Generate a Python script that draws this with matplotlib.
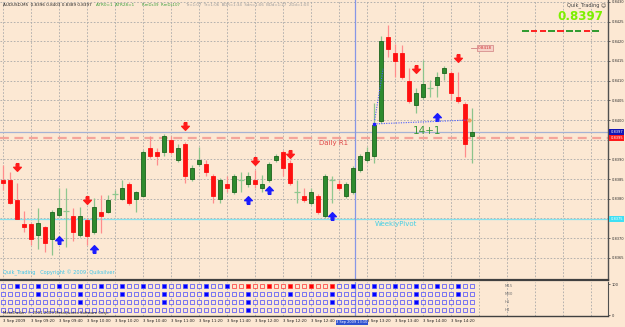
import matplotlib.pyplot as plt
from matplotlib.patches import Rectangle
from matplotlib.path import Path

# ===== AUDUSD M5, 3 Sep 2009 09:00 - 14:35 =====
opens = [0.83848, 0.83848, 0.83797, 0.83736, 0.83736, 0.83708, 0.83728, 0.83698,
         0.83759, 0.83769, 0.83756, 0.83708, 0.83746, 0.83716, 0.83766, 0.83766,
         0.83812, 0.83799, 0.83837, 0.83799, 0.83807, 0.83929, 0.83919, 0.83919,
         0.83949, 0.83898, 0.83939, 0.83850, 0.83888, 0.83888, 0.83858, 0.83799,
         0.83837, 0.83817, 0.83848, 0.83837, 0.83848, 0.83827, 0.83848, 0.83898,
         0.83919, 0.83891, 0.83817, 0.83807, 0.83789, 0.83807, 0.83756, 0.83848,
         0.83837, 0.83807, 0.83817, 0.83873, 0.83898, 0.83909, 0.83997, 0.84211,
         0.84170, 0.84170, 0.84099, 0.84038, 0.84058, 0.84081, 0.84089, 0.84119,
         0.84119, 0.84058, 0.84041, 0.83960]
highs = [0.83886, 0.83868, 0.83840, 0.83769, 0.83738, 0.83776, 0.83731, 0.83771,
         0.83827, 0.83827, 0.83776, 0.83779, 0.83751, 0.83802, 0.83810, 0.83810,
         0.83822, 0.83848, 0.83843, 0.83820, 0.83924, 0.83959, 0.83929, 0.83964,
         0.83959, 0.83939, 0.83944, 0.83886, 0.83931, 0.83898, 0.83863, 0.83853,
         0.83858, 0.83863, 0.83868, 0.83868, 0.83873, 0.83860, 0.83893, 0.83914,
         0.83924, 0.83898, 0.83848, 0.83827, 0.83827, 0.83812, 0.83863, 0.83858,
         0.83848, 0.83843, 0.83883, 0.83914, 0.83931, 0.84043, 0.84213, 0.84241,
         0.84193, 0.84191, 0.84132, 0.84081, 0.84152, 0.84102, 0.84122, 0.84137,
         0.84124, 0.84122, 0.84046, 0.84030]
lows = [0.83822, 0.83787, 0.83749, 0.83716, 0.83682, 0.83672, 0.83665, 0.83657,
        0.83754, 0.83677, 0.83693, 0.83703, 0.83682, 0.83710, 0.83713, 0.83764,
        0.83797, 0.83797, 0.83784, 0.83766, 0.83804, 0.83904, 0.83886, 0.83909,
        0.83914, 0.83893, 0.83840, 0.83845, 0.83883, 0.83858, 0.83789, 0.83789,
        0.83817, 0.83812, 0.83817, 0.83830, 0.83827, 0.83817, 0.83843, 0.83893,
        0.83858, 0.83835, 0.83789, 0.83792, 0.83784, 0.83761, 0.83751, 0.83789,
        0.83822, 0.83802, 0.83812, 0.83868, 0.83893, 0.83891, 0.83992, 0.84160,
        0.84109, 0.84104, 0.84043, 0.84018, 0.84053, 0.84058, 0.84058, 0.84102,
        0.84051, 0.84043, 0.83906, 0.83890]
closes = [0.83840, 0.83789, 0.83749, 0.83728, 0.83698, 0.83738, 0.83687, 0.83766,
          0.83776, 0.83769, 0.83716, 0.83756, 0.83705, 0.83779, 0.83756, 0.83797,
          0.83812, 0.83827, 0.83789, 0.83817, 0.83919, 0.83909, 0.83909, 0.83959,
          0.83919, 0.83929, 0.83858, 0.83878, 0.83898, 0.83868, 0.83807, 0.83848,
          0.83827, 0.83858, 0.83848, 0.83858, 0.83837, 0.83837, 0.83888, 0.83909,
          0.83878, 0.83840, 0.83817, 0.83797, 0.83817, 0.83766, 0.83858, 0.83848,
          0.83827, 0.83837, 0.83878, 0.83909, 0.83919, 0.83987, 0.84201, 0.84180,
          0.84150, 0.84109, 0.84048, 0.84069, 0.84091, 0.84081, 0.84109, 0.84132,
          0.84069, 0.84048, 0.83939, 0.83970]

# signal arrows
down_bars = [2, 12, 26, 36, 41, 59, 65]
down_prices = [0.83881, 0.83797, 0.83985, 0.83896, 0.83914, 0.84129, 0.84157]
up_bars = [8, 13, 35, 38, 47, 62]
up_prices = [0.83695, 0.83672, 0.83797, 0.83822, 0.83756, 0.84008]

# levels
bid_price = 0.8397
daily_r1 = 0.83954
weekly_pivot = 0.83749
dotted_bars = [53.0, 66.6]
dotted_prices = [0.83990, 0.84000]
dotted2_bars = [53.1, 54.3]
dotted2_prices = [0.84000, 0.84130]
price_tag_bar = 68.9
price_tag_price = 0.84183
cursor_bar = 50.3

price_ticks = [0.8365, 0.8370, 0.8375, 0.8380, 0.8385, 0.8390, 0.8395,
               0.8400, 0.8405, 0.8410, 0.8415, 0.8420, 0.8425, 0.8430]
hidden_ticks = [0.8375, 0.8395]   # covered by the coloured level tags
time_bars = [0, 4, 8, 12, 16, 20, 24, 28, 32, 36, 40, 44, 52, 56, 60, 64]
time_labels = ["3 Sep 2009", "3 Sep 09:20", "3 Sep 09:40", "3 Sep 10:00",
               "3 Sep 10:20", "3 Sep 10:40", "3 Sep 11:00", "3 Sep 11:20",
               "3 Sep 11:40", "3 Sep 12:00", "3 Sep 12:20", "3 Sep 12:40",
               "3 Sep 13:20", "3 Sep 13:40", "3 Sep 14:00", "3 Sep 14:20"]

# multi-timeframe squares
tf_names = ["M15", "M30", "H1", "H4"]
m15_on = [2, 5, 8, 11, 14, 17, 20, 23, 26, 29, 32, 35, 38, 41, 44, 47, 50, 53,
          56, 59, 62, 65]
m30_on = [5, 11, 17, 23, 29, 35, 41, 47, 53, 59, 65]
h1_on = [11, 23, 35, 47, 59]
h4_on = [35]
m15_red_from, m15_red_to = 33, 47

strip_colors = ["#2e9a2e", "#ff2020", "#ff2020", "#2e9a2e", "#ff2020",
                "#2e9a2e", "#2e9a2e", "#ff2020", "#2e9a2e"]

BG = "#fce8d3"
GRID = "#a9a9a9"
n = len(opens)

fig = plt.figure(figsize=(6.25, 3.27), dpi=100, facecolor=BG)

# ---- main window ----
ax = fig.add_axes([0, 47 / 327, 608 / 625, 280 / 327])
ax.set_facecolor(BG)
ax.set_xlim(-3 / 7, 605 / 7)
ax.set_ylim(0.835936, 0.843048)
for p in price_ticks:
    ax.axhline(p, color=GRID, lw=0.6, ls=(0, (2, 2)), zorder=0)
for gx in range(0, 87, 4):
    ax.axvline(gx, color=GRID, lw=0.6, ls=(0, (2, 2)), zorder=0)

ax.axhline(daily_r1, color="#f4a49a", lw=1.6, ls=(0, (4, 2.5)), zorder=1)
ax.axhline(bid_price, color="#a4b2d4", lw=0.9, zorder=1)
ax.axhline(weekly_pivot, color="#86e2ee", lw=0.9, zorder=1)
ax.axvline(cursor_bar, color="#8696e6", lw=0.9, zorder=1)

for i in range(n):
    o, h, l, c = opens[i], highs[i], lows[i], closes[i]
    if c > o:
        wick, fc, ec = "#8cc48c", "#2e8b2e", "#1c641c"
    elif c < o:
        wick, fc, ec = "#ff8c8c", "#ff1010", "#ff1010"
    else:
        wick, fc, ec = "#90c890", None, None
    ax.vlines(i, l, h, color=wick, lw=0.9, zorder=2)
    if fc is None:
        ax.hlines(c, i - 0.36, i + 0.36, color=wick, lw=0.9, zorder=3)
    else:
        ax.add_patch(Rectangle((i - 0.34, min(o, c)), 0.68, abs(c - o),
                               fc=fc, ec=ec, lw=0.6, zorder=3))

down_arrow = Path([(-0.35, 1), (0.35, 1), (0.35, 0.05), (1, 0.05), (0, -1),
                   (-1, 0.05), (-0.35, 0.05), (-0.35, 1)])
up_arrow = Path([(x, -y) for x, y in down_arrow.vertices])
ax.plot(down_bars, down_prices, ls="none", marker=down_arrow, ms=5.5,
        color="#ff1a1a", zorder=4)
ax.plot(up_bars, up_prices, ls="none", marker=up_arrow, ms=5.5,
        color="#1a1aff", zorder=4)

ax.plot(dotted_bars, dotted_prices, color="#4a5cff", lw=0.8, ls=(0, (1, 1.2)), zorder=4)
ax.plot(dotted2_bars, dotted2_prices, color="#4a5cff", lw=0.8, ls=(0, (1, 1.2)), zorder=4)
ax.plot(dotted_bars[1], dotted_prices[1], marker="o", ms=2, color="#f0a060", zorder=5)
ax.plot(dotted_bars[0], dotted_prices[0], marker="s", ms=1.8, color="#2020ff", zorder=5)

ax.text(47.2, daily_r1 - 0.00012, "Daily R1", color="#e04848", fontsize=5,
        ha="center", va="center", zorder=5)
ax.text(56.2, weekly_pivot - 0.00013, "WeeklyPivot", color="#46cfe4", fontsize=5,
        ha="center", va="center", zorder=5)
ax.text(60.6, 0.83972, "14+1", color="#3c9a3c", fontsize=7.5,
        ha="center", va="center", zorder=5)
ax.plot([66.8, 68.0], [price_tag_price, price_tag_price], color="#d08080", lw=0.6)
ax.text(price_tag_bar, price_tag_price, "0.8418", color="#d03030", fontsize=3,
        ha="center", va="center",
        bbox=dict(boxstyle="square,pad=0.2", fc="#f6d2c8", ec="#d08080", lw=0.5))
ax.text(0.005, 0.025, "Quik_Trading   Copyright \u00a9 2009  Quiksilver",
        transform=ax.transAxes, color="#3cc4e8", fontsize=3.6, ha="left", va="center")

ax.yaxis.tick_right()
ax.set_yticks(price_ticks)
ax.set_yticklabels(["" if p in hidden_ticks else f"{p:.4f}" for p in price_ticks])
ax.tick_params(axis="y", labelsize=2.6, length=1.5, width=0.5, pad=1,
               colors="#303030")
ax.set_xticks([])
for s in ["top", "left"]:
    ax.spines[s].set_visible(False)
ax.spines["right"].set_color("#505050")
ax.spines["right"].set_linewidth(1.0)
ax.spines["bottom"].set_color("#404040")
ax.spines["bottom"].set_linewidth(1.6)

ytr = ax.get_yaxis_transform()
for price, txt, bg in [(bid_price, "0.8397", "#1414b4"), (daily_r1, "0.8395", "#ff1a1a"),
                       (weekly_pivot, "0.8375", "#3ee0f4")]:
    ax.text(1.004, price, txt, transform=ytr, fontsize=2.6, color="white",
            ha="left", va="center", zorder=10, clip_on=False,
            bbox=dict(boxstyle="square,pad=0.3", fc=bg, ec="none"))

# ---- indicator sub window ----
sub = fig.add_axes([0, 11 / 327, 608 / 625, 34 / 327])
sub.set_facecolor(BG)
sub.set_xlim(-3 / 7, 605 / 7)
sub.set_ylim(-3.2, 106.5)
for gx in range(0, 87, 4):
    sub.axvline(gx, color=GRID, lw=0.6, ls=(0, (2, 2)), zorder=0)
sub.axvline(cursor_bar, color="#8696e6", lw=0.9, zorder=1)

rows = [93.6, 67.8, 42.0, 16.2]
filled = [m15_on, m30_on, h1_on, h4_on]
for r, (yrow, on) in enumerate(zip(rows, filled)):
    for i in range(n):
        red = r == 0 and m15_red_from <= i <= m15_red_to
        ec = "#ff3030" if red else "#4646ff"
        fc = ("#ff0000" if red else "#0000ff") if i in on else BG
        sub.plot(i, yrow, marker="s", ms=2.9, mfc=fc, mec=ec, mew=0.5, zorder=3)
    sub.text(71.6, yrow, tf_names[r], fontsize=2.8, color="#707070",
             ha="left", va="center")
sub.text(0.005, 0.08, "MetaTrader, \u00a9 2001-2009 MetaQuotes Software Corp.",
         transform=sub.transAxes, fontsize=2.8, color="#202020", ha="left", va="center")

sub.yaxis.tick_right()
sub.set_yticks([0, 100])
sub.set_yticklabels(["0", "100"])
sub.tick_params(axis="y", labelsize=2.6, length=1.5, width=0.5, pad=1, colors="#303030")
sub.set_xticks(time_bars)
sub.set_xticklabels(time_labels, ha="left")
sub.tick_params(axis="x", labelsize=2.8, length=0, pad=2.5, colors="#202020")
sub.spines["top"].set_visible(False)
sub.spines["left"].set_visible(False)
sub.spines["right"].set_color("#505050")
sub.spines["bottom"].set_color("#404040")
sub.spines["bottom"].set_linewidth(1.0)
sub.text(cursor_bar - 0.45, -0.19, "3 Sep 2009 13:10", transform=sub.get_xaxis_transform(),
         fontsize=2.5, color="white", ha="center", va="center", clip_on=False, zorder=10,
         bbox=dict(boxstyle="square,pad=0.2", fc="#2f52d0", ec="none"))

# ---- header / corner texts (pixel overlay) ----
ov = fig.add_axes([0, 0, 1, 1], zorder=20)
ov.set_xlim(0, 625)
ov.set_ylim(327, 0)
ov.axis("off")
ov.text(3, 5, "AUDUSD,M5  0.8396 0.8403 0.8389 0.8397", fontsize=3, color="#202020",
        va="center")
ov.text(96, 5, "ATR0=1  ATR28=1", fontsize=3, color="#3aa03a", va="center")
ov.text(142, 5, "RmDs39  RmDs107", fontsize=2.8, color="#3aa03a", va="center")
ov.text(186, 5, "Tr=1:07  Tr=1:06  BDR=1:34  Sdn=1:06  BDd=1:27  2Dd=1:03",
        fontsize=2.8, color="#9a9a9a", va="center")
ov.text(606, 5, "Quik_Trading \u263a", fontsize=3.6, color="#404040",
        ha="right", va="center")
ov.text(603, 16.5, "0.8397", fontsize=8.6, fontweight="bold", color="#7cf000",
        ha="right", va="center")
for k, col in enumerate(strip_colors):
    x0 = 522 + k * 8.8
    ov.plot([x0, x0 + 6.5], [31, 31], color=col, lw=1.4, solid_capstyle="butt")

fig.savefig("out.png", dpi=100, facecolor=BG)
